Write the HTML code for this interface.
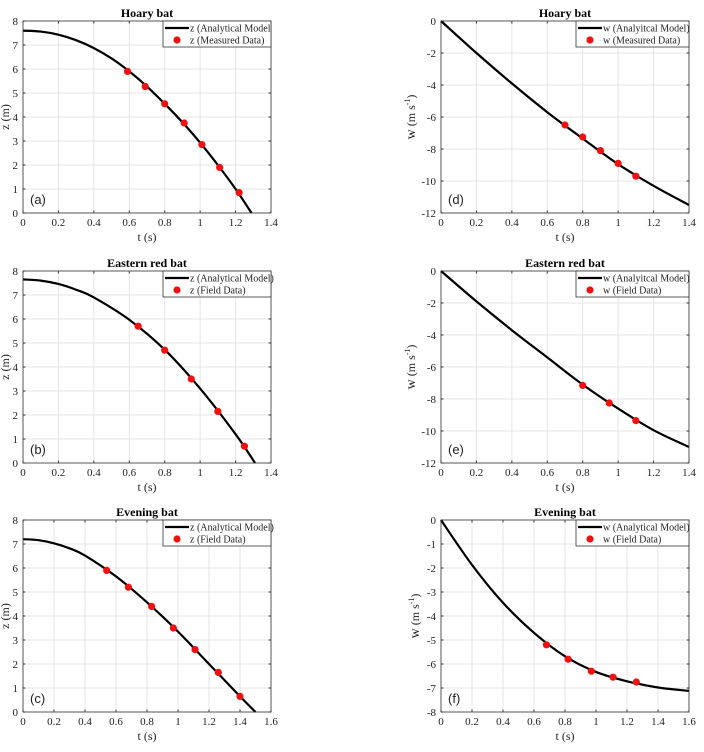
<!DOCTYPE html>
<html><head><meta charset="utf-8">
<style>
body{margin:0;background:#fff;}
svg{display:block;font-family:"Liberation Serif",serif;}
</style></head>
<body>
<svg id="fig" width="704" height="752" viewBox="0 0 704 752" xmlns="http://www.w3.org/2000/svg"></svg>
<script>
// ---- data ----
const aLineT=[0,0.1,0.2,0.3,0.4,0.5,0.6,0.7,0.8,0.9,1.0,1.1,1.2,1.29];
const aLineZ=[7.6,7.56,7.43,7.2,6.87,6.44,5.9,5.27,4.55,3.78,2.93,2.0,1.0,0];
const aPtsT=[0.59,0.69,0.8,0.91,1.01,1.11,1.22];
const aPtsZ=[5.9,5.27,4.55,3.75,2.85,1.9,0.85];
const dLineT=[0,0.2,0.4,0.6,0.8,1.0,1.2,1.4];
const dLineW=[0,-2.0,-3.9,-5.7,-7.35,-8.95,-10.3,-11.5];
const dPtsT=[0.7,0.8,0.9,1.0,1.1];
const dPtsW=[-6.5,-7.25,-8.1,-8.9,-9.7];
const bLineT=[0,0.1,0.2,0.3,0.4,0.6,0.8,1.0,1.2,1.31];
const bLineZ=[7.65,7.6,7.46,7.22,6.9,5.97,4.72,3.1,1.2,0];
const bPtsT=[0.65,0.8,0.95,1.1,1.25];
const bPtsZ=[5.7,4.7,3.5,2.15,0.7];
const eLineT=[0,0.2,0.4,0.6,0.8,1.0,1.2,1.4];
const eLineW=[0,-1.9,-3.7,-5.4,-7.1,-8.6,-9.95,-11.0];
const ePtsT=[0.8,0.95,1.1];
const ePtsW=[-7.15,-8.25,-9.35];
const cLineT=[0,0.1,0.2,0.3,0.4,0.6,0.8,1.0,1.2,1.4,1.5];
const cLineZ=[7.2,7.16,7.03,6.82,6.52,5.65,4.57,3.35,2.0,0.65,0];
const cPtsT=[0.54,0.68,0.83,0.97,1.11,1.26,1.4];
const cPtsZ=[5.9,5.2,4.4,3.5,2.6,1.65,0.65];
const fLineT=[0,0.2,0.4,0.6,0.8,1.0,1.2,1.4,1.6];
const fLineW=[0,-1.87,-3.45,-4.7,-5.68,-6.33,-6.72,-6.98,-7.12];
const fPtsT=[0.68,0.82,0.97,1.11,1.26];
const fPtsW=[-5.2,-5.8,-6.3,-6.55,-6.75];
const xTicks14=[0,0.2,0.4,0.6,0.8,1,1.2,1.4];
const xTicks16=[0,0.2,0.4,0.6,0.8,1,1.2,1.4,1.6];
const zTicks=[0,1,2,3,4,5,6,7,8];
const w12Ticks=[-12,-10,-8,-6,-4,-2,0];
const w8Ticks=[-8,-7,-6,-5,-4,-3,-2,-1,0];

const NS="http://www.w3.org/2000/svg";
const svg=document.getElementById('fig');
function mk(tag,attrs,parent){const e=document.createElementNS(NS,tag);for(const k in attrs)e.setAttribute(k,attrs[k]);(parent||svg).appendChild(e);return e;}

function panel(o){
  const g=mk('g',{});
  
  
  const L=o.x0,R=o.x1,T=o.y0,B=o.y1;
  const sx=v=>L+(v-o.xmin)/(o.xmax-o.xmin)*(R-L);
  const sy=v=>B-(v-o.ymin)/(o.ymax-o.ymin)*(B-T);
  mk('rect',{x:L,y:T,width:R-L,height:B-T,fill:'#fff'},g);
  o.xt.forEach(v=>{
    const x=sx(v);
    mk('line',{x1:x,y1:T,x2:x,y2:B,stroke:'#e4e4e4','stroke-width':1},g);
    mk('line',{x1:x,y1:B,x2:x,y2:B-2.5,stroke:'#333'},g);
    mk('line',{x1:x,y1:T,x2:x,y2:T+2.5,stroke:'#333'},g);
    const t=mk('text',{x:x,y:B+13,'font-size':11,'text-anchor':'middle',fill:'#222'},g);
    t.textContent=String(v);
    
    
  });
  o.yt.forEach(v=>{
    const y=sy(v);
    mk('line',{x1:L,y1:y,x2:R,y2:y,stroke:'#e4e4e4','stroke-width':1},g);
    mk('line',{x1:L,y1:y,x2:L+2.5,y2:y,stroke:'#333'},g);
    mk('line',{x1:R,y1:y,x2:R-2.5,y2:y,stroke:'#333'},g);
    const t=mk('text',{x:L-5,y:y+4,'font-size':11,'text-anchor':'end',fill:'#222'},g);
    t.textContent=String(v);
    
    
  });
  const P=o.lt.map((t,i)=>[sx(t),sy(o.lv[i])]);
  let d='M'+P[0][0]+','+P[0][1];
  for(let i=0;i<P.length-1;i++){
    const p0=P[Math.max(0,i-1)],p1=P[i],p2=P[i+1],p3=P[Math.min(P.length-1,i+2)];
    const c1=[p1[0]+(p2[0]-p0[0])/6,p1[1]+(p2[1]-p0[1])/6];
    const c2=[p2[0]-(p3[0]-p1[0])/6,p2[1]-(p3[1]-p1[1])/6];
    d+=' C'+c1+' '+c2+' '+p2;
  }
  const path=mk('path',{d:d,fill:'none',stroke:'#000','stroke-width':2.2},g);
  
  
  o.pt.forEach((t,i)=>{
    const c=mk('circle',{cx:sx(t),cy:sy(o.pv[i]),r:3.6,fill:'#f01010'},g);
    
    
  });
  mk('rect',{x:L,y:T,width:R-L,height:B-T,fill:'none',stroke:'#333','stroke-width':0.8},g);
  const ti=mk('text',{x:(L+R)/2,y:T-4,'font-size':12,'font-weight':'bold','text-anchor':'middle'},g);
  ti.textContent=o.title;
  
  
  const xl=mk('text',{x:(L+R)/2,y:B+28,'font-size':12,'text-anchor':'middle',fill:'#222'},g);
  xl.textContent='t (s)';
  
  
  const yl=mk('text',{x:0,y:0,'font-size':12,'text-anchor':'middle',fill:'#222',transform:`translate(${L-o.ylOff},${(T+B)/2}) rotate(-90)`},g);
  yl.innerHTML=o.ylab;
  
  
  const pl=mk('text',{x:L+7,y:B-9,'font-size':13,'font-family':'Liberation Sans, sans-serif',fill:'#222'},g);
  pl.textContent=o.letter;
  
  
  const lg=mk('g',{},g);
  
  
  const lx=o.legX;
  mk('rect',{x:lx,y:T,width:R-lx,height:26,fill:'#fff',stroke:'#333','stroke-width':0.8},lg);
  mk('line',{x1:lx+2,y1:T+7,x2:lx+26,y2:T+7,stroke:'#000','stroke-width':2.2},lg);
  const t1=mk('text',{x:lx+27,y:T+10.5,'font-size':10,fill:'#222'},lg);t1.textContent=o.leg1;
  
  
  mk('circle',{cx:lx+14,cy:T+19,r:3.6,fill:'#f01010'},lg);
  const t2=mk('text',{x:lx+27,y:T+22.5,'font-size':10,fill:'#222'},lg);t2.textContent=o.leg2;
  
  
}
const LX0=23,LX1=271,RX0=441,RX1=689;
const rows=[[21,213],[271,463],[520,712]];
const wl='<tspan font-size="14">w</tspan> (m s<tspan font-size="8" dy="-5">-1</tspan><tspan dy="5">)</tspan>';
panel({name:'panel-a',x0:LX0,x1:LX1,y0:rows[0][0],y1:rows[0][1],xmin:0,xmax:1.4,ymin:0,ymax:8,xt:xTicks14,yt:zTicks,lt:aLineT,lv:aLineZ,pt:aPtsT,pv:aPtsZ,title:'Hoary bat',ylab:'z (m)',ylOff:14,letter:'(a)',legX:163,leg1:'z (Analytical Model',leg2:'z (Measured Data)'});
panel({name:'panel-d',x0:RX0,x1:RX1,y0:rows[0][0],y1:rows[0][1],xmin:0,xmax:1.4,ymin:-12,ymax:0,xt:xTicks14,yt:w12Ticks,lt:dLineT,lv:dLineW,pt:dPtsT,pv:dPtsW,title:'Hoary bat',ylab:wl,ylOff:26,letter:'(d)',legX:576,leg1:'w (Analyitcal Model)',leg2:'w (Measured Data)'});
panel({name:'panel-b',x0:LX0,x1:LX1,y0:rows[1][0],y1:rows[1][1],xmin:0,xmax:1.4,ymin:0,ymax:8,xt:xTicks14,yt:zTicks,lt:bLineT,lv:bLineZ,pt:bPtsT,pv:bPtsZ,title:'Eastern red bat',ylab:'z (m)',ylOff:14,letter:'(b)',legX:163,leg1:'z (Analytical Model)',leg2:'z (Field Data)'});
panel({name:'panel-e',x0:RX0,x1:RX1,y0:rows[1][0],y1:rows[1][1],xmin:0,xmax:1.4,ymin:-12,ymax:0,xt:xTicks14,yt:w12Ticks,lt:eLineT,lv:eLineW,pt:ePtsT,pv:ePtsW,title:'Eastern red bat',ylab:wl,ylOff:26,letter:'(e)',legX:576,leg1:'w (Analyitcal Model)',leg2:'w (Field Data)'});
panel({name:'panel-c',x0:LX0,x1:LX1,y0:rows[2][0],y1:rows[2][1],xmin:0,xmax:1.6,ymin:0,ymax:8,xt:xTicks16,yt:zTicks,lt:cLineT,lv:cLineZ,pt:cPtsT,pv:cPtsZ,title:'Evening bat',ylab:'z (m)',ylOff:14,letter:'(c)',legX:163,leg1:'z (Analytical Model)',leg2:'z (Field Data)'});
panel({name:'panel-f',x0:RX0,x1:RX1,y0:rows[2][0],y1:rows[2][1],xmin:0,xmax:1.6,ymin:-8,ymax:0,xt:xTicks16,yt:w8Ticks,lt:fLineT,lv:fLineW,pt:fPtsT,pv:fPtsW,title:'Evening bat',ylab:wl,ylOff:22,letter:'(f)',legX:576,leg1:'w (Analytical Model)',leg2:'w (Field Data)'});
</script>
</body></html>
